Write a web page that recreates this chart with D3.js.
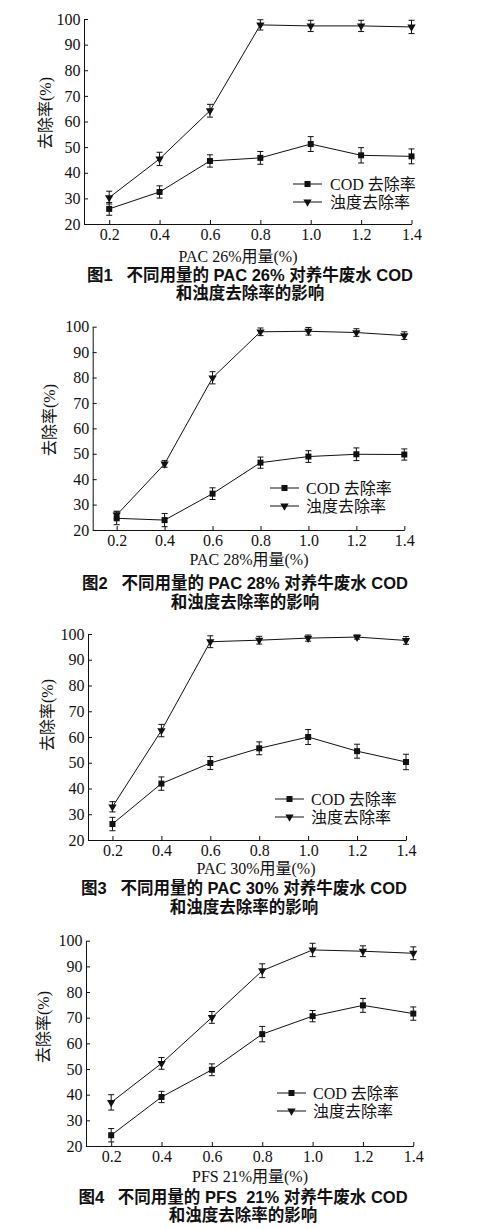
<!DOCTYPE html>
<html>
<head>
<meta charset="utf-8">
<script src="https://cdn.jsdelivr.net/npm/d3@7"></script>
<style>
  body { margin: 0; background: #fff; }
  svg { display: block; }
  .caption { font-family: "Liberation Sans", "Noto Sans CJK SC", sans-serif; font-weight: bold; font-size: 16.5px; fill: #111; white-space: pre; }
  .lbl { font-family: "Liberation Serif", "Noto Sans CJK SC", serif; font-size: 16px; fill: #111; white-space: pre; }
</style>
</head>
<body>
<div id="chart"></div>
<script>
// dosages (x) and y ticks shared by all four figures
const dosage = [0.2, 0.4, 0.6, 0.8, 1.0, 1.2, 1.4];
const yTicks = [20, 30, 40, 50, 60, 70, 80, 90, 100];
const seriesNames = ["COD 去除率", "浊度去除率"];

// 图1 PAC 26%
const cod1 = [25.9, 32.5, 44.6, 45.8, 51.2, 46.8, 46.4];
const codErr1 = [2.5, 2.4, 2.4, 2.5, 2.9, 3.0, 2.9];
const turb1 = [30.3, 45.4, 64.2, 97.7, 97.3, 97.3, 96.9];
const turbErr1 = [2.5, 2.6, 2.5, 2.0, 2.2, 2.2, 2.6];

// 图2 PAC 28%
const cod2 = [24.6, 23.9, 34.3, 46.5, 48.9, 49.8, 49.7];
const codErr2 = [2.5, 2.6, 2.3, 2.2, 2.3, 2.5, 2.2];
const turb2 = [25.9, 46.0, 79.9, 98.0, 98.2, 97.7, 96.5];
const turbErr2 = [1.5, 1.3, 2.4, 1.5, 1.5, 1.5, 1.5];

// 图3 PAC 30%
const cod3 = [26.2, 41.9, 49.9, 55.6, 60.0, 54.5, 50.3];
const codErr3 = [2.6, 2.6, 2.5, 2.5, 2.9, 2.7, 3.0];
const turb3 = [32.9, 62.5, 97.0, 97.6, 98.4, 98.8, 97.5];
const turbErr3 = [2.0, 2.4, 2.3, 1.5, 1.2, 0.8, 1.5];

// 图4 PFS 21%
const cod4 = [24.2, 39.1, 49.7, 63.6, 70.6, 74.8, 71.6];
const codErr4 = [2.6, 2.2, 2.3, 3.0, 2.2, 2.7, 2.6];
const turb4 = [37.0, 52.2, 70.1, 88.3, 96.4, 95.9, 95.1];
const turbErr4 = [3.0, 2.3, 2.3, 2.7, 2.6, 2.1, 2.5];

const xTitles = ["PAC 26%用量(%)", "PAC 28%用量(%)", "PAC 30%用量(%)", "PFS 21%用量(%)"];
const captions = [
  "图1   不同用量的 PAC 26% 对养牛废水 COD",
  "图2   不同用量的 PAC 28% 对养牛废水 COD",
  "图3   不同用量的 PAC 30% 对养牛废水 COD",
  "图4   不同用量的 PFS  21% 对养牛废水 COD"
];
const caption2 = "和浊度去除率的影响";
const yTitle = "去除率(%)";

const W = 481, H = 1229;
const serif = '"Liberation Serif", "Times New Roman", serif';

// placement of each figure on the page
const layout = [
  { l: 84,  r: 411.5, t: 19,    b: 224,  xt: [238, 32], cap: [250, 51, 69], leg: [293, 330, 184 - 224], yt: [45, 113] },
  { l: 92.7, r: 404.3, t: 326.7, b: 530,  xt: [249, 29], cap: [245, 53, 72], leg: [270, 306, 488 - 530], yt: [49, 420] },
  { l: 88,  r: 406,   t: 634,   b: 840,  xt: [256, 28], cap: [244, 48, 67], leg: [275, 311, 799 - 840], yt: [47, 715] },
  { l: 86,  r: 413.3, t: 940.7, b: 1146, xt: [250, 30], cap: [243, 51, 69], leg: [277, 313, 1093 - 1146], yt: [43, 1027] }
];

const figs = [
  { cod: cod1, codErr: codErr1, turb: turb1, turbErr: turbErr1 },
  { cod: cod2, codErr: codErr2, turb: turb2, turbErr: turbErr2 },
  { cod: cod3, codErr: codErr3, turb: turb3, turbErr: turbErr3 },
  { cod: cod4, codErr: codErr4, turb: turb4, turbErr: turbErr4 }
];

const svg = d3.select("#chart").append("svg")
  .attr("width", W).attr("height", H);

const squareSym = d3.symbol().type(d3.symbolSquare).size(36);
const triSym = d3.symbol().type(d3.symbolTriangle).size(30);

function styleAxis(sel) {
  sel.attr("font-family", serif).attr("font-size", 16);
  sel.selectAll("text")
    .attr("fill", "#111")
    .style("font-family", serif)
    .style("font-size", "16px");
  sel.selectAll("line, path").attr("stroke", "#111");
}

figs.forEach((f, i) => {
  const L = layout[i];
  const g = svg.append("g");

  const x = d3.scaleLinear().domain([0.1, 1.4]).range([L.l, L.r]);
  const y = d3.scaleLinear().domain([20, 100]).range([L.b, L.t]);

  // axes, ticks pointing inward
  g.append("g")
    .attr("transform", `translate(0,${L.b})`)
    .call(d3.axisBottom(x).tickValues(dosage).tickFormat(d3.format(".1f"))
      .tickSizeInner(-4).tickSizeOuter(0).tickPadding(5))
    .call(styleAxis);
  g.append("g")
    .attr("transform", `translate(${L.l},0)`)
    .call(d3.axisLeft(y).tickValues(yTicks)
      .tickSizeInner(-4).tickSizeOuter(0).tickPadding(3.5))
    .call(styleAxis);

  const series = [
    { vals: f.cod, err: f.codErr, sym: squareSym, rot: 0 },
    { vals: f.turb, err: f.turbErr, sym: triSym, rot: 180 }
  ];

  const line = d3.line().x((d, j) => x(dosage[j])).y(d => y(d));

  series.forEach(s => {
    g.append("path")
      .datum(s.vals)
      .attr("d", line)
      .attr("fill", "none")
      .attr("stroke", "#111")
      .attr("stroke-width", 1);

    const eb = g.append("g");
    s.vals.forEach((v, j) => {
      const cx = x(dosage[j]);
      const y0 = y(v - s.err[j]), y1 = y(v + s.err[j]);
      eb.append("line").attr("x1", cx).attr("x2", cx).attr("y1", y0).attr("y2", y1);
      eb.append("line").attr("x1", cx - 3).attr("x2", cx + 3).attr("y1", y0).attr("y2", y0);
      eb.append("line").attr("x1", cx - 3).attr("x2", cx + 3).attr("y1", y1).attr("y2", y1);
    });
    eb.selectAll("line").attr("stroke", "#111").attr("stroke-width", 1);

    g.selectAll(null)
      .data(s.vals)
      .enter().append("path")
      .attr("d", s.sym)
      .attr("transform", (d, j) => `translate(${x(dosage[j])},${y(d)}) rotate(${s.rot})`)
      .attr("fill", "#111");
  });

  // legend
  series.forEach((s, k) => {
    const ly = L.b + L.leg[2] + k * 18;
    g.append("line")
      .attr("x1", L.leg[0]).attr("x2", L.leg[0] + 29)
      .attr("y1", ly).attr("y2", ly)
      .attr("stroke", "#111");
    g.append("path")
      .attr("d", s.sym)
      .attr("transform", `translate(${L.leg[0] + 14.5},${ly}) rotate(${s.rot})`)
      .attr("fill", "#111");
    g.append("text")
      .attr("class", "lbl")
      .attr("x", L.leg[1]).attr("y", ly)
      .attr("dy", "0.36em")
      .text(seriesNames[k]);
  });

  // axis titles
  g.append("text")
    .attr("class", "lbl")
    .attr("x", L.xt[0]).attr("y", L.b + L.xt[1])
    .attr("dy", "0.36em")
    .attr("text-anchor", "middle")
    .text(xTitles[i]);

  g.append("text")
    .attr("class", "lbl")
    .attr("transform", `translate(${L.yt[0]},${L.yt[1]}) rotate(-90)`)
    .attr("dy", "0.36em")
    .attr("text-anchor", "middle")
    .text(yTitle);

  // caption
  g.append("text")
    .attr("class", "caption")
    .attr("x", L.cap[0]).attr("y", L.b + L.cap[1])
    .attr("dy", "0.36em")
    .attr("text-anchor", "middle")
    .text(captions[i]);
  g.append("text")
    .attr("class", "caption")
    .attr("x", L.cap[0]).attr("y", L.b + L.cap[2])
    .attr("dy", "0.36em")
    .attr("text-anchor", "middle")
    .text(caption2);
});
</script>
</body>
</html>
